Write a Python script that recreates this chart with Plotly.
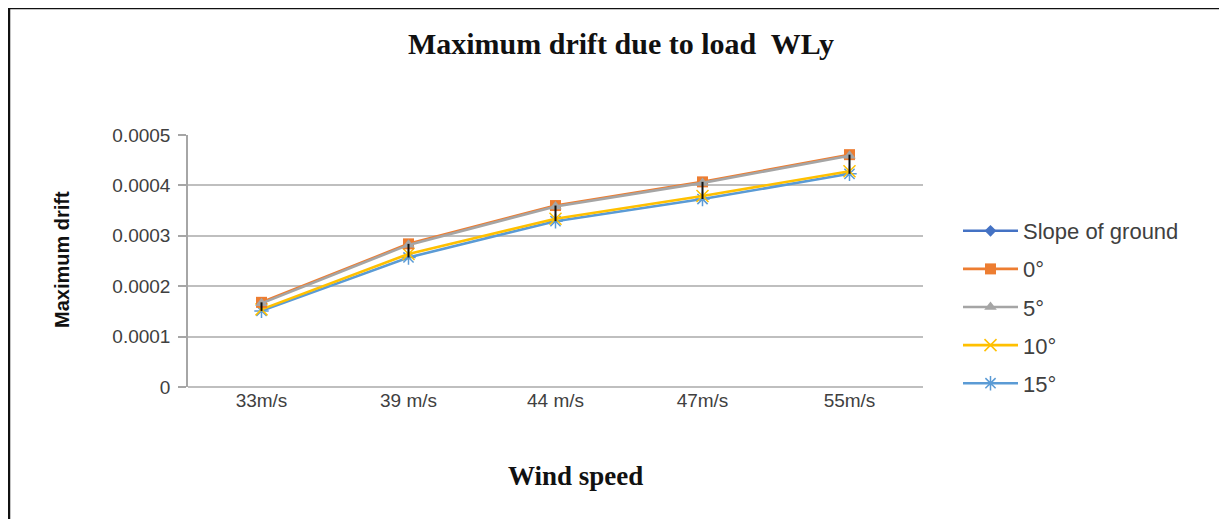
import plotly.graph_objects as go

categories = ["33m/s", "39 m/s", "44 m/s", "47m/s", "55m/s"]
slope_of_ground = [None, None, None, None, None]
deg0 = [0.000168, 0.000284, 0.000360, 0.000407, 0.000461]
deg5 = [0.000166, 0.000282, 0.000358, 0.000405, 0.000459]
deg10 = [0.000154, 0.000264, 0.000334, 0.000379, 0.000428]
deg15 = [0.000151, 0.000257, 0.000329, 0.000373, 0.000423]
y_ticks = [0, 0.0001, 0.0002, 0.0003, 0.0004, 0.0005]
y_tick_labels = ["0", "0.0001", "0.0002", "0.0003", "0.0004", "0.0005"]

OFF = 8  # page body margin
W, H = 1227 - OFF, 519 - OFF
L, R, T, B = 188 - OFF, 923 - OFF, 135 - OFF, 387 - OFF
pw, ph = R - L, B - T

def px(x):
    return (x - OFF - L) / pw

def py(y):
    return (B - (y - OFF)) / ph

fig = go.Figure()

series = [
    ("Slope of ground", slope_of_ground, "#4472C4", "diamond", 9, 0),
    ("0°", deg0, "#ED7D31", "square", 11, 0),
    ("5°", deg5, "#A5A5A5", "triangle-up", 11, 0),
    ("10°", deg10, "#FFC000", "x-thin-open", 12, 1.5),
    ("15°", deg15, "#5B9BD5", "asterisk-open", 12, 1.5),
]
draw_order = [0, 4, 3, 1, 2]
traces = {}
for i, (name, vals, col, sym, size, mlw) in enumerate(series):
    traces[i] = go.Scatter(
        x=categories, y=vals, name=name, mode="lines+markers",
        line=dict(color=col, width=2.6),
        marker=dict(symbol=sym, size=size, color=col,
                    line=dict(color=col, width=mlw)),
        legendgroup=name, legendrank=i + 1,
    )
for i in draw_order:
    fig.add_trace(traces[i])

# high-low lines
hl_x, hl_y = [], []
all_series = [deg0, deg5, deg10, deg15]
for j, c in enumerate(categories):
    vals = [s[j] for s in all_series]
    hl_x += [c, c, None]
    hl_y += [max(vals), min(vals), None]
fig.add_trace(go.Scatter(x=hl_x, y=hl_y, mode="lines",
                         line=dict(color="#111111", width=2),
                         showlegend=False, hoverinfo="skip"))

fig.update_layout(
    width=W, height=H,
    margin=dict(l=L, r=W - R, t=T, b=H - B, pad=0),
    paper_bgcolor="white", plot_bgcolor="white",
    font=dict(family="Liberation Sans, Arial, sans-serif", color="#404040", size=18),
    title=dict(text="<b>Maximum drift due to load  WLy</b>",
               xref="container", yref="container",
               x=(621 - OFF) / W, y=1 - (43 - OFF) / H,
               xanchor="center", yanchor="middle",
               font=dict(family="Liberation Serif, Times New Roman, serif",
                         size=30, color="#111111")),
    xaxis=dict(type="category", categoryorder="array", categoryarray=categories,
               range=[-0.5, 4.5], showgrid=False, showline=False,
               ticks="", tickfont=dict(size=19, color="#404040"),
               zeroline=False),
    yaxis=dict(range=[0, 0.0005], tickvals=y_ticks, ticktext=y_tick_labels,
               showgrid=True, gridcolor="#BFBFBF", gridwidth=2,
               showline=True, linecolor="#A6A6A6", linewidth=1.5,
               ticks="outside", ticklen=8, tickcolor="#A6A6A6", tickwidth=1.5,
               ticklabelstandoff=4,
               zeroline=True, zerolinecolor="#BFBFBF", zerolinewidth=2,
               tickfont=dict(size=19, color="#404040")),
    legend=dict(x=px(958), y=py(307), xanchor="left", yanchor="middle",
                font=dict(size=22, color="#404040"),
                tracegroupgap=6.5, itemwidth=55,
                bgcolor="rgba(0,0,0,0)"),
    showlegend=True,
)

fig.add_annotation(text="<b>Maximum drift</b>", textangle=-90,
                   xref="paper", yref="paper", x=px(62), y=py(260),
                   showarrow=False, xanchor="center", yanchor="middle",
                   font=dict(family="Liberation Sans, Arial, sans-serif",
                             size=20, color="#111111"))
fig.add_annotation(text="<b>Wind speed</b>",
                   xref="paper", yref="paper", x=px(575), y=py(476),
                   showarrow=False, xanchor="center", yanchor="middle",
                   font=dict(family="Liberation Serif, Times New Roman, serif",
                             size=27, color="#111111"))

# outer frame
fig.add_shape(type="rect", xref="paper", yref="paper",
              x0=px(9), x1=px(1224), y0=py(560), y1=py(8),
              line=dict(color="#111111", width=2.5), layer="above")

fig.write_html("out.html")
